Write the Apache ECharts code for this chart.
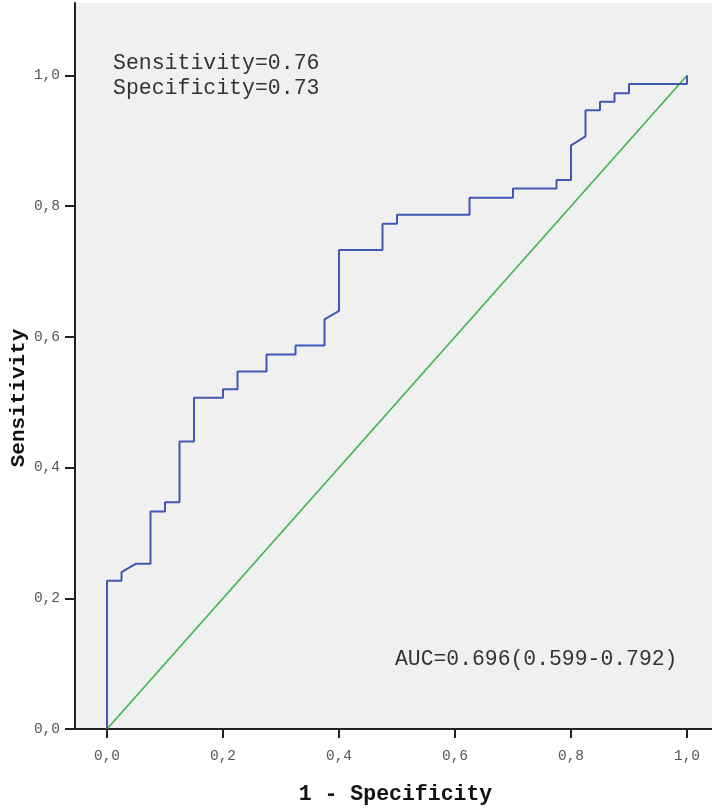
<!DOCTYPE html>
<html>
<head>
<meta charset="utf-8">
<script src="https://cdn.jsdelivr.net/npm/echarts@6/dist/echarts.min.js"></script>
<style>
html,body{margin:0;padding:0;background:#fff;}
#c{width:712px;height:811px;}
</style>
</head>
<body>
<div id="c"></div>
<script>
// ROC curve points (1 - specificity, sensitivity)
const fpr = [0, 0, 0.025, 0.025, 0.05, 0.075, 0.075, 0.1, 0.1, 0.125, 0.125, 0.15, 0.15, 0.2, 0.2, 0.225, 0.225, 0.275, 0.275, 0.325, 0.325, 0.375, 0.375, 0.4, 0.4, 0.475, 0.475, 0.5, 0.5, 0.625, 0.625, 0.7, 0.7, 0.775, 0.775, 0.8, 0.8, 0.825, 0.825, 0.85, 0.85, 0.875, 0.875, 0.9, 0.9, 1.0, 1.0];
const sensitivity = [0, 0.227, 0.227, 0.240, 0.253, 0.253, 0.333, 0.333, 0.347, 0.347, 0.440, 0.440, 0.507, 0.507, 0.520, 0.520, 0.547, 0.547, 0.573, 0.573, 0.587, 0.587, 0.627, 0.640, 0.733, 0.733, 0.773, 0.773, 0.787, 0.787, 0.813, 0.813, 0.827, 0.827, 0.840, 0.840, 0.893, 0.907, 0.947, 0.947, 0.960, 0.960, 0.973, 0.973, 0.987, 0.987, 1.0];
// Reference diagonal
const refX = [0, 1];
const refY = [0, 1];
const tickValues = [0, 0.2, 0.4, 0.6, 0.8, 1.0];
const annotations = ["Sensitivity=0.76", "Specificity=0.73", "AUC=0.696(0.599-0.792)"];
const yTitle = "Sensitivity";
const xTitle = "1 - Specificity";

const fmt = v => v.toFixed(1).replace('.', ',');
const mono = '"Liberation Mono", "DejaVu Sans Mono", monospace';

const chart = echarts.init(document.getElementById('c'), null, {renderer: 'canvas'});
chart.setOption({
  animation: false,
  backgroundColor: '#ffffff',
  grid: {left: 75, right: 0, top: 3, bottom: 82, show: true, backgroundColor: '#f0f0f0', borderWidth: 0,
         containLabel: false, outerBoundsMode: 'none'},
  xAxis: [{
    type: 'value', min: -0.0552, max: 1.0431,
    name: xTitle, nameLocation: 'middle', nameGap: 55,
    nameTextStyle: {fontFamily: mono, fontWeight: 'bold', fontSize: 21.5, color: '#111', padding: [0, 0, 0, 4]},
    axisLine: {show: true, onZero: false, lineStyle: {color: '#222', width: 2}},
    axisTick: {show: true, length: 9, customValues: tickValues, lineStyle: {color: '#222', width: 2}},
    axisLabel: {customValues: tickValues, formatter: fmt, margin: 20, fontFamily: mono, fontSize: 14.5, color: '#555'},
    splitLine: {show: false}
  }, {
    type: 'value', position: 'top', min: -0.0552, max: 1.0431,
    axisLine: {show: true, lineStyle: {color: '#222', width: 2}},
    axisTick: {show: false}, axisLabel: {show: false}, splitLine: {show: false}
  }],
  yAxis: {
    type: 'value', min: 0, max: 1.111,
    axisLine: {show: true, onZero: false, lineStyle: {color: '#222', width: 2}},
    axisTick: {show: true, length: 10, customValues: tickValues, lineStyle: {color: '#222', width: 2}},
    axisLabel: {customValues: tickValues, formatter: fmt, margin: 15, fontFamily: mono, fontSize: 14.5, color: '#555', padding: [6, 0, 0, 0]},
    splitLine: {show: false}
  },
  series: [{
    type: 'line', name: 'Reference', data: refX.map((x, i) => [x, refY[i]]),
    showSymbol: false, lineStyle: {color: '#3cb44b', width: 1.6}, z: 2
  }, {
    type: 'line', name: 'ROC', data: fpr.map((x, i) => [x, sensitivity[i]]),
    showSymbol: false, lineStyle: {color: '#4058b4', width: 2}, z: 3
  }],
  graphic: [
    {type: 'text', left: 113, top: 51, style: {text: annotations[0] + '\n' + annotations[1], font: '21.5px ' + mono, fill: '#333', lineHeight: 25}},
    {type: 'text', left: 395, top: 649, style: {text: annotations[2], font: '21.4px ' + mono, fill: '#333'}},
    {type: 'text', x: 19, y: 398, rotation: Math.PI / 2,
     style: {text: yTitle, font: 'bold 21px ' + mono, fill: '#111', align: 'center', verticalAlign: 'middle'}}
  ]
});
</script>
</body>
</html>
